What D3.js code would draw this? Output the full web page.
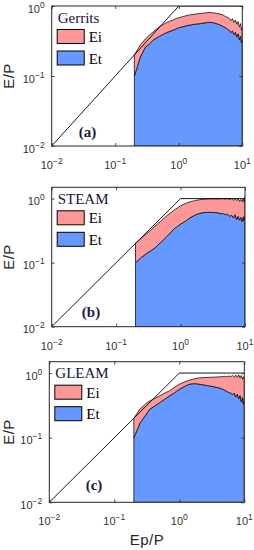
<!DOCTYPE html>
<html><head><meta charset="utf-8">
<script src="https://cdn.jsdelivr.net/npm/d3@7"></script>
<style>
html,body{margin:0;padding:0;background:#fff;}
svg{display:block;}
</style></head>
<body>
<script>
// ---------- data ----------
const epP = [0.2,0.25,0.3,0.35,0.4,0.5,0.6,0.7,0.8,0.9,1.0,1.2,1.4,1.6,1.8,2.0,2.3,2.6,3.0,3.4,3.8,4.2,4.6,5.0,5.4,5.8,6.2,6.6,7.0,7.4,7.8,8.2,8.6,9.0,9.4,9.7,10];

const etGerrits = [0.1,0.19,0.26,0.29,0.33,0.37,0.405,0.43,0.45,0.47,0.49,0.51,0.53,0.54,0.55,0.555,0.565,0.575,0.585,0.58,0.565,0.55,0.53,0.51,0.49,0.47,0.45,0.42,0.44,0.39,0.42,0.36,0.40,0.33,0.37,0.30,0.33];
const eiGerrits = [0.10,0.09,0.08,0.10,0.10,0.14,0.155,0.17,0.18,0.19,0.19,0.20,0.21,0.215,0.215,0.22,0.22,0.22,0.225,0.22,0.225,0.23,0.23,0.23,0.22,0.22,0.22,0.20,0.22,0.19,0.21,0.19,0.20,0.17,0.19,0.15,0.16];

const etSteam = [0.1,0.122,0.14,0.155,0.17,0.21,0.25,0.295,0.34,0.37,0.40,0.445,0.50,0.54,0.57,0.59,0.605,0.61,0.61,0.605,0.60,0.58,0.585,0.56,0.57,0.53,0.55,0.50,0.56,0.47,0.53,0.46,0.51,0.44,0.52,0.45,0.56];
const eiSteam = [0.10,0.123,0.145,0.17,0.20,0.24,0.28,0.305,0.32,0.35,0.37,0.395,0.39,0.38,0.375,0.37,0.37,0.375,0.38,0.385,0.385,0.41,0.415,0.42,0.425,0.44,0.45,0.44,0.43,0.46,0.47,0.44,0.46,0.45,0.46,0.43,0.52];

const etGleam = [0.1,0.17,0.22,0.275,0.30,0.35,0.395,0.44,0.48,0.52,0.56,0.62,0.67,0.685,0.685,0.675,0.66,0.645,0.63,0.615,0.60,0.585,0.565,0.54,0.52,0.50,0.49,0.46,0.49,0.43,0.47,0.40,0.45,0.36,0.42,0.33,0.40];
const eiGleam = [0.10,0.11,0.11,0.095,0.095,0.095,0.095,0.09,0.10,0.11,0.11,0.11,0.10,0.115,0.14,0.165,0.19,0.21,0.23,0.25,0.27,0.29,0.315,0.35,0.35,0.40,0.39,0.46,0.38,0.50,0.39,0.54,0.39,0.56,0.38,0.55,0.38];

const panelNames = ["Gerrits","STEAM","GLEAM"];
const panelTags = ["(a)","(b)","(c)"];
const seriesNames = ["Ei","Et"];
const xTickExps = [-2,-1,0,1];
const yTickExps = [-2,-1,0];
const limitLine = [[0.01,0.01],[1,1],[10,1]];
const panelEt = [etGerrits, etSteam, etGleam];
const panelEi = [eiGerrits, eiSteam, eiGleam];
const yMaxes = [1, 1.5, 1.5];

// ---------- layout ----------
const W = 254, H = 550;
const layout = [
  {left:51.7, right:242.3, top:6,     bottom:146,   tag:[87.5,137]},
  {left:51.7, right:245,   top:187.3, bottom:326.7, tag:[91,317]},
  {left:49.3, right:244.3, top:361.7, bottom:502.3, tag:[94,490]}
];
const colEi = "#ff9999", colEt = "#6699ff";
const sans = "'Liberation Sans', Arial, sans-serif";
const serif = "'Liberation Serif', 'Times New Roman', serif";

const svg = d3.select("body").append("svg").attr("width", W).attr("height", H);

layout.forEach((L, i) => {
  const x = d3.scaleLog().domain([0.01, 10]).range([L.left, L.right]);
  const y = d3.scaleLog().domain([0.01, yMaxes[i]]).range([L.bottom, L.top]);
  const g = svg.append("g");

  const rows = epP.map((v, k) => ({x: v, Et: panelEt[i][k], Ei: panelEi[i][k]}));
  const stacked = d3.stack().keys(["Et","Ei"])(rows);
  const area = d3.area()
    .x(d => x(d.data.x))
    .y0(d => y(Math.max(d[0], 0.01)))
    .y1(d => y(d[1]));

  // clip
  const clipId = "clip" + i;
  svg.append("clipPath").attr("id", clipId).append("rect")
    .attr("x", L.left).attr("y", L.top).attr("width", L.right - L.left).attr("height", L.bottom - L.top);

  const areas = g.append("g").attr("clip-path", `url(#${clipId})`);
  areas.append("path").datum(stacked[0]).attr("d", area)
    .attr("fill", colEt).attr("stroke", "#111").attr("stroke-width", 0.8).attr("stroke-linejoin","round");
  areas.append("path").datum(stacked[1]).attr("d", area)
    .attr("fill", colEi).attr("stroke", "#111").attr("stroke-width", 0.8).attr("stroke-linejoin","round");

  // limit line
  areas.append("path").datum(limitLine)
    .attr("d", d3.line().x(d => x(d[0])).y(d => y(d[1])))
    .attr("fill", "none").attr("stroke", "#000").attr("stroke-width", 0.9);

  // axes ticks (inside)
  const xt = xTickExps.map(e => Math.pow(10, e));
  const yt = yTickExps.map(e => Math.pow(10, e));
  const ax = [
    g.append("g").attr("transform", `translate(0,${L.bottom})`).call(d3.axisBottom(x).tickValues(xt).tickSize(-3).tickFormat("")),
    g.append("g").attr("transform", `translate(0,${L.top})`).call(d3.axisTop(x).tickValues(xt).tickSize(-3).tickFormat("")),
    g.append("g").attr("transform", `translate(${L.left},0)`).call(d3.axisLeft(y).tickValues(yt).tickSize(-3).tickFormat("")),
    g.append("g").attr("transform", `translate(${L.right},0)`).call(d3.axisRight(y).tickValues(yt).tickSize(-3).tickFormat(""))
  ];
  ax.forEach(a => { a.select(".domain").remove(); a.selectAll("line").attr("stroke", "#262626").attr("stroke-width", 0.8); a.selectAll("text").remove(); });

  // box
  g.append("rect").attr("x", L.left).attr("y", L.top)
    .attr("width", L.right - L.left).attr("height", L.bottom - L.top)
    .attr("fill", "none").attr("stroke", "#262626").attr("stroke-width", 1);

  // x tick labels
  const xl = g.append("g").attr("font-family", sans).attr("fill", "#333");
  xTickExps.forEach(e => {
    const t = xl.append("text").attr("x", x(Math.pow(10, e))).attr("y", L.bottom + 23)
      .attr("text-anchor", "middle").attr("font-size", 11);
    t.append("tspan").text("10");
    t.append("tspan").attr("dy", -5).attr("font-size", 8.5).text(e < 0 ? "\u2212" + (-e) : String(e));
  });
  // y tick labels
  yTickExps.forEach(e => {
    const t = xl.append("text").attr("x", L.left - 7).attr("y", y(Math.pow(10, e)) + 6.5)
      .attr("text-anchor", "end").attr("font-size", 11);
    t.append("tspan").text("10");
    t.append("tspan").attr("dy", -5).attr("font-size", 8.5).text(e < 0 ? "\u2212" + (-e) : String(e));
  });

  // y label
  g.append("text").attr("transform", `translate(13.5,${(L.top + L.bottom) / 2}) rotate(-90)`)
    .attr("text-anchor", "middle").attr("font-family", sans).attr("font-size", 15)
    .attr("letter-spacing", 0.5).attr("fill", "#262626").text("E/P");

  // legend
  const lg = g.append("g").attr("font-family", serif).attr("font-size", 15);
  lg.append("text").attr("x", L.left + 6).attr("y", L.top + 16.5).attr("fill", "#14143a").text(panelNames[i]);
  seriesNames.forEach((s, k) => {
    const y0 = L.top + 23.5 + k * 21.5;
    lg.append("rect").attr("x", L.left + 5.5).attr("y", y0).attr("width", 27).attr("height", 14)
      .attr("fill", s === "Ei" ? colEi : colEt).attr("stroke", "#000").attr("stroke-width", 1);
    lg.append("text").attr("x", L.left + 37).attr("y", y0 + 12.5).attr("fill", "#000").text(s);
  });

  // panel tag
  g.append("text").attr("x", L.tag[0]).attr("y", L.tag[1]).attr("text-anchor", "middle")
    .attr("font-family", serif).attr("font-size", 15).attr("font-weight", "bold")
    .attr("fill", "#1a1a40").text(panelTags[i]);
});

// x axis title
svg.append("text").attr("x", 147).attr("y", 545).attr("text-anchor", "middle")
  .attr("font-family", sans).attr("font-size", 15).attr("letter-spacing", 0.5)
  .attr("fill", "#262626").text("Ep/P");
</script>
</body></html>
